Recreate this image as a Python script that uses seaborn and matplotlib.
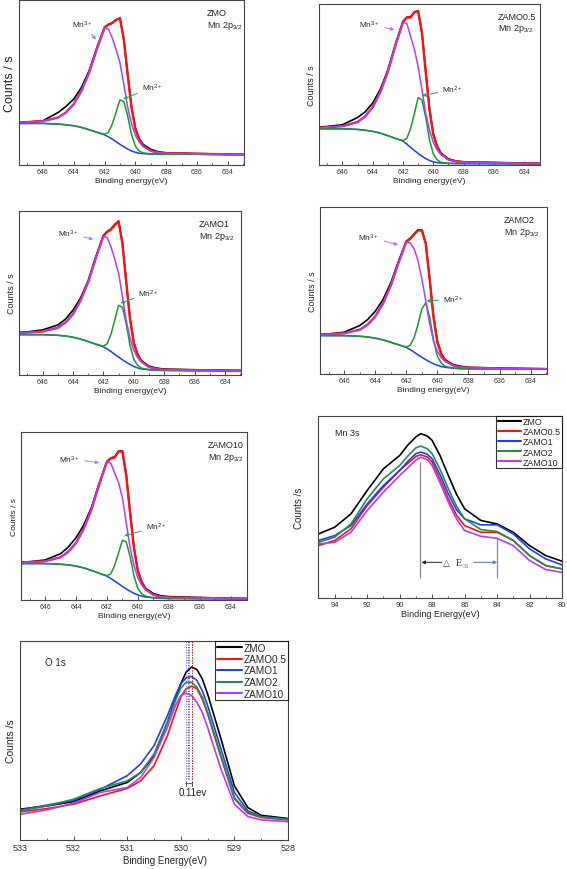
import matplotlib
matplotlib.use("Agg")
import matplotlib.pyplot as plt
from matplotlib.ticker import MultipleLocator, NullLocator
import seaborn as sns

# ---- Mn 2p3/2 fits (counts scaled to % of panel height) ----
mn2p_energy = [647.5, 647, 646, 645, 644.5, 644, 643.5, 643, 642.5, 642, 641.75, 641.5, 641.25,
               641, 640.75, 640.5, 640.25, 640, 639.75, 639.5, 639, 638.5, 638, 636, 634, 633]

zmo_raw = [25.8, 26.0, 26.8, 31.9, 35.5, 39.9, 47.0, 57.1, 71.0, 83.5, 85.0, 86.0, 88.0,
           89.0, 76.0, 55.0, 35.5, 22.5, 16.0, 12.5, 9.5, 8.0, 7.4, 6.9, 6.6, 6.4]
zmo_fit = [25.8, 26.0, 26.6, 28.8, 31.9, 36.9, 45.0, 56.0, 70.3, 83.2, 85.2, 86.1, 87.9,
           89.0, 76.4, 55.1, 35.0, 21.8, 15.4, 11.7, 8.6, 7.5, 7.1, 6.8, 6.5, 6.4]
zmo_mn3 = [25.8, 26.0, 26.6, 28.8, 31.9, 36.9, 45.0, 56.0, 70.2, 82.9, 82.5, 77.0, 70.0,
           62.0, 49.0, 35.0, 25.0, 18.0, 14.0, 11.3, 8.5, 7.5, 7.1, 6.8, 6.5, 6.4]
zmo_mn2 = [25.2, 25.2, 25.2, 24.8, 24.4, 23.8, 22.8, 21.4, 19.9, 18.6, 19.8, 24.8, 32.0,
           39.5, 38.5, 29.8, 18.5, 11.5, 8.5, 7.3, 6.8, 6.5, 6.5, 6.5, 6.3, 6.3]
zmo_bg = [25.2, 25.2, 25.2, 24.8, 24.4, 23.8, 22.8, 21.4, 19.8, 18.3, 17.1, 15.7, 14.1,
          12.5, 11.1, 9.7, 8.5, 7.7, 7.1, 6.9, 6.7, 6.5, 6.5, 6.5, 6.3, 6.3]

zamo05_raw = [23.7, 23.9, 25.0, 29.5, 33.0, 38.5, 47.0, 59.0, 75.0, 89.2, 91.8, 92.0, 95.0,
              95.8, 82.5, 58.5, 35.0, 19.5, 12.0, 7.5, 3.8, 2.5, 2.0, 1.5, 1.1, 1.0]
zamo05_fit = [23.2, 23.5, 24.1, 26.7, 30.2, 36.0, 45.3, 58.0, 74.3, 88.9, 91.5, 91.6, 94.9,
              95.6, 82.0, 57.7, 34.3, 18.9, 11.3, 7.0, 3.4, 2.2, 1.7, 1.4, 1.0, 0.9]
zamo05_mn3 = [23.2, 23.5, 24.1, 26.7, 30.2, 36.0, 45.3, 58.0, 74.3, 88.5, 88.0, 80.0, 72.0,
              61.0, 47.0, 32.0, 21.5, 14.0, 9.5, 6.5, 3.3, 2.2, 1.7, 1.4, 1.0, 0.9]
zamo05_mn2 = [22.5, 22.5, 22.5, 22.1, 21.6, 20.9, 19.8, 18.2, 16.5, 15.2, 16.5, 22.6, 31.9,
              41.8, 40.5, 29.7, 15.6, 6.9, 3.3, 1.7, 1.1, 0.9, 0.9, 0.8, 0.8, 0.8]
zamo05_bg = [22.5, 22.5, 22.5, 22.1, 21.6, 20.9, 19.8, 18.2, 16.5, 14.8, 13.0, 11.0, 9.0,
             7.2, 5.5, 4.0, 2.8, 2.0, 1.5, 1.2, 1.0, 0.9, 0.9, 0.8, 0.8, 0.8]

zamo1_raw = [26.0, 26.3, 27.5, 30.5, 34.0, 39.5, 47.0, 57.5, 72.0, 85.1, 87.5, 89.0, 91.8,
             93.9, 80.7, 57.3, 34.8, 20.0, 12.8, 8.8, 5.4, 4.2, 3.6, 3.2, 2.9, 2.8]
zamo1_fit = [25.7, 25.9, 26.5, 28.8, 32.0, 37.1, 45.4, 56.7, 71.3, 84.8, 87.2, 88.7, 91.5,
             93.6, 80.2, 56.7, 34.2, 19.4, 12.3, 8.3, 4.9, 3.7, 3.2, 2.9, 2.7, 2.6]
zamo1_mn3 = [25.7, 25.9, 26.5, 28.8, 32.0, 37.1, 45.4, 56.7, 71.3, 84.4, 84.0, 78.1, 70.6,
             62.0, 48.1, 33.2, 22.5, 15.0, 10.7, 7.8, 4.8, 3.7, 3.2, 2.9, 2.7, 2.6]
zamo1_mn2 = [24.6, 24.6, 24.6, 24.2, 23.8, 23.0, 21.9, 20.4, 18.8, 17.6, 19.1, 24.9, 33.5,
             42.5, 41.4, 31.3, 18.1, 9.6, 5.9, 4.2, 3.3, 2.9, 2.8, 2.7, 2.6, 2.6]
zamo1_bg = [24.6, 24.6, 24.6, 24.2, 23.8, 23.0, 21.9, 20.4, 18.8, 17.2, 15.9, 14.3, 12.6,
            10.9, 9.3, 7.8, 6.4, 5.2, 4.3, 3.7, 3.2, 2.9, 2.8, 2.7, 2.6, 2.6]

zamo2_raw = [23.8, 24.0, 25.0, 29.0, 32.5, 37.5, 44.5, 54.5, 67.5, 79.5, 81.3, 83.8, 86.3,
             86.3, 78.5, 57.5, 34.6, 19.6, 12.3, 8.6, 5.7, 4.6, 4.0, 3.5, 3.2, 3.1]
zamo2_fit = [23.6, 23.8, 24.4, 26.5, 29.5, 34.4, 42.2, 52.9, 66.6, 79.2, 81.0, 83.5, 86.0,
             86.0, 78.0, 57.0, 34.0, 19.0, 11.8, 8.1, 5.2, 4.1, 3.7, 3.4, 3.1, 3.0]
zamo2_mn3 = [23.6, 23.8, 24.4, 26.5, 29.5, 34.4, 42.2, 52.9, 66.6, 78.9, 78.5, 75.0, 68.0,
             57.0, 44.0, 30.0, 20.0, 13.5, 9.8, 7.5, 5.1, 4.1, 3.7, 3.4, 3.1, 3.0]
zamo2_mn2 = [23.0, 23.0, 23.0, 22.6, 22.2, 21.5, 20.4, 19.0, 17.5, 16.2, 17.1, 21.6, 29.5,
             39.0, 42.6, 34.3, 20.1, 10.7, 6.5, 4.6, 3.6, 3.2, 3.1, 3.0, 3.0, 3.0]
zamo2_bg = [23.0, 23.0, 23.0, 22.6, 22.2, 21.5, 20.4, 19.0, 17.5, 15.9, 14.6, 13.1, 11.5,
            10.0, 8.6, 7.3, 6.1, 5.2, 4.5, 4.0, 3.5, 3.2, 3.1, 3.0, 3.0, 3.0]

zamo10_raw = [22.5, 22.8, 23.8, 27.5, 31.5, 37.0, 44.5, 55.0, 69.5, 82.5, 84.6, 85.2, 88.6,
              88.8, 74.5, 52.2, 31.3, 17.6, 10.9, 7.0, 3.8, 2.5, 2.0, 1.5, 1.0, 0.9]
zamo10_fit = [22.3, 22.5, 23.1, 25.4, 28.7, 33.9, 42.3, 53.8, 68.7, 82.2, 84.3, 84.9, 88.3,
              88.5, 74.0, 51.6, 30.7, 17.0, 10.3, 6.4, 3.1, 1.9, 1.5, 1.2, 0.9, 0.8]
zamo10_mn3 = [22.3, 22.5, 23.1, 25.4, 28.7, 33.9, 42.3, 53.8, 68.7, 81.9, 81.5, 75.6, 70.0,
              61.0, 46.0, 31.1, 20.5, 13.1, 8.9, 6.0, 3.0, 1.9, 1.5, 1.2, 0.9, 0.8]
zamo10_mn2 = [21.7, 21.7, 21.7, 21.3, 20.9, 20.2, 19.1, 17.6, 15.9, 14.5, 15.6, 20.6, 28.0,
              35.6, 34.6, 25.7, 14.2, 6.9, 3.7, 2.2, 1.4, 1.0, 0.9, 0.8, 0.8, 0.8]
zamo10_bg = [21.7, 21.7, 21.7, 21.3, 20.9, 20.2, 19.1, 17.6, 15.9, 14.2, 12.8, 11.3, 9.7,
             8.1, 6.6, 5.2, 4.0, 3.0, 2.3, 1.8, 1.3, 1.0, 0.9, 0.8, 0.8, 0.8]

# ---- Mn 3s ----
mn3s_energy = [95, 94, 93, 92, 91, 90, 89.5, 89, 88.7, 88.3, 88, 87.5, 87, 86.5, 86, 85, 84, 83, 82, 81, 80]
mn3s_zmo = [35.2, 38.9, 46.2, 59.1, 71.0, 78.3, 84.0, 88.5, 90.3, 89.0, 86.6, 78.0, 67.3, 57.0,
            49.0, 42.6, 40.7, 36.1, 28.8, 23.3, 20.2]
mn3s_zamo05 = [28.8, 31.6, 38.0, 50.8, 60.9, 70.1, 74.0, 77.8, 78.7, 77.5, 74.7, 65.0, 54.5, 45.5,
               39.8, 36.1, 36.1, 31.6, 23.3, 17.8, 16.0]
mn3s_zamo1 = [31.6, 34.3, 39.8, 51.7, 61.8, 70.1, 75.0, 79.3, 80.2, 79.0, 76.5, 67.5, 57.2, 48.5,
              43.5, 40.2, 40.2, 35.2, 27.0, 21.5, 18.2]
mn3s_zamo2 = [30.6, 33.4, 40.7, 54.5, 65.5, 72.8, 78.0, 82.5, 83.5, 82.0, 79.3, 70.5, 60.0, 50.5,
              43.5, 37.6, 36.5, 31.6, 23.3, 17.8, 16.0]
mn3s_zamo10 = [29.7, 30.6, 36.1, 48.1, 58.2, 67.3, 71.5, 75.8, 77.4, 76.0, 72.8, 63.0, 52.7, 43.5,
               37.1, 33.9, 32.8, 28.8, 20.6, 15.6, 14.1]
mn3s_split = [88.75, 84.0]   # peak positions used for delta E 3s

# ---- O 1s ----
o1s_energy = [533, 532.5, 532, 531.5, 531, 530.75, 530.5, 530.25, 530.1, 530, 529.9, 529.8,
              529.7, 529.6, 529.5, 529.25, 529, 528.75, 528.5, 528]
o1s_zmo = [15.5, 17.1, 19.3, 24.7, 28.9, 33.9, 42.4, 59.2, 70.9, 78.5, 84.4, 86.9, 85.7, 81.0,
           73.4, 50.8, 27.2, 16.3, 12.4, 10.8]
o1s_zamo05 = [14.1, 15.8, 18.0, 22.2, 25.9, 29.7, 37.3, 52.4, 64.2, 71.8, 76.0, 77.3, 76.0, 70.9,
              63.4, 41.5, 20.8, 13.4, 11.3, 10.1]
o1s_zamo1 = [15.1, 17.5, 20.0, 25.5, 32.3, 38.2, 47.4, 62.5, 72.6, 78.5, 81.5, 82.2, 80.2, 75.1,
             67.6, 45.7, 23.9, 14.6, 11.8, 10.4]
o1s_zamo2 = [14.6, 17.1, 20.5, 25.9, 29.7, 33.9, 43.2, 59.2, 70.1, 76.3, 79.3, 79.3, 76.8, 71.8,
             64.2, 42.4, 21.3, 13.8, 11.6, 10.4]
o1s_zamo10 = [12.9, 15.1, 18.5, 23.9, 26.4, 31.4, 41.5, 56.6, 67.6, 72.6, 73.8, 72.6, 69.2, 64.2,
              56.6, 35.6, 18.0, 11.8, 10.1, 9.2]
o1s_peaks = [529.80, 529.79, 529.86, 529.84, 529.91]

sample_names = ["ZMO", "ZAMO0.5", "ZAMO1", "ZAMO2", "ZAMO10"]

sns.set_theme(style="white")
plt.rcParams["font.family"] = ["Liberation Sans", "DejaVu Sans"]
plt.rcParams["mathtext.fontset"] = "custom"
plt.rcParams["mathtext.rm"] = "Liberation Sans"
plt.rcParams["mathtext.it"] = "Liberation Sans:italic"

BLACK = "#000000"
RED = "#ff1010"
BLUE = "#1f3ff0"
GREEN = "#1a9a2a"
TEAL = "#2a8a50"
PURPLE = "#b03cff"
series_colors = [BLACK, RED, BLUE, TEAL, PURPLE]

fig = plt.figure(figsize=(5.67, 8.7), dpi=100)


def style_axis(ax, major, minor, tick_size):
    ax.xaxis.set_major_locator(MultipleLocator(major))
    ax.xaxis.set_minor_locator(MultipleLocator(minor))
    ax.yaxis.set_major_locator(NullLocator())
    ax.tick_params(axis="x", which="major", direction="in", length=3, width=0.6,
                   labelsize=tick_size, pad=2, bottom=True, colors="#333333")
    ax.tick_params(axis="x", which="minor", direction="in", length=1.6, width=0.5, bottom=True)
    for sp in ax.spines.values():
        sp.set_color("#444444")
        sp.set_linewidth(0.8)


def line(ax, x, y, color, lw, label=None):
    sns.lineplot(x=x, y=y, color=color, lw=lw, ax=ax, sort=False, errorbar=None, label=label)


# Mn 2p panels
panels_2p = [
    ([19 / 567, 1 - 166 / 870, 225 / 567, 165 / 870], "ZMO",
     zmo_raw, zmo_fit, zmo_mn3, zmo_mn2, zmo_bg,
     (643.4, 85.3), (642.55, 76), (638.9, 47), (640.8, 40), 0.836, 9),
    ([319 / 567, 1 - 166 / 870, 221 / 567, 161 / 870], "ZAMO0.5",
     zamo05_raw, zamo05_fit, zamo05_mn3, zamo05_mn2, zamo05_bg,
     (644.2, 87.5), (642.57, 84), (638.7, 47), (640.73, 43), 0.81, 6.5),
    ([19 / 567, 1 - 376 / 870, 222 / 567, 164 / 870], "ZAMO1",
     zamo1_raw, zamo1_fit, zamo1_mn3, zamo1_mn2, zamo1_bg,
     (644.3, 86.6), (642.67, 82.7), (639.0, 50), (640.88, 43.8), 0.81, 6.5),
    ([320 / 567, 1 - 375 / 870, 227 / 567, 167 / 870], "ZAMO2",
     zamo2_raw, zamo2_fit, zamo2_mn3, zamo2_mn2, zamo2_bg,
     (644.4, 82), (642.53, 77.4), (638.95, 45), (640.69, 43.6), 0.81, 6.5),
    ([21 / 567, 1 - 601 / 870, 226 / 567, 168 / 870], "ZAMO10",
     zamo10_raw, zamo10_fit, zamo10_mn3, zamo10_mn2, zamo10_bg,
     (644.4, 84), (642.5, 81.7), (638.8, 43.6), (640.88, 38.2), 0.827, 6),
]

for rect, name, raw, fit, mn3, mn2, bg, t3, p3, t2, p2, tx, ysize in panels_2p:
    ax = fig.add_axes(rect)
    line(ax, mn2p_energy, raw, BLACK, 1.2)
    line(ax, mn2p_energy, fit, RED, 1.7)
    line(ax, mn2p_energy, bg, BLUE, 1.1)
    line(ax, mn2p_energy, mn2, GREEN, 1.1)
    line(ax, mn2p_energy, mn3, PURPLE, 1.1)
    ax.set_xlim(647.55, 632.95)
    ax.set_ylim(0, 100)
    style_axis(ax, 2, 1, 5)
    ax.set_xlabel("Binding energy(eV)", fontsize=6, labelpad=1.5)
    ax.set_ylabel("Counts / s", fontsize=ysize, labelpad=2)
    ax.text(tx, 0.925, name, transform=ax.transAxes, fontsize=6.5, va="center")
    ax.text(tx, 0.85, "Mn 2p$_{\\mathregular{3/2}}$", transform=ax.transAxes, fontsize=6.5, va="center")
    ax.annotate("Mn$^{\\mathregular{3+}}$", xy=p3, xytext=t3, fontsize=6, ha="center", va="center",
                arrowprops=dict(arrowstyle="-|>", color="#c070ff", lw=0.7, mutation_scale=5,
                                shrinkA=1, shrinkB=0))
    ax.annotate("Mn$^{\\mathregular{2+}}$", xy=p2, xytext=t2, fontsize=6, ha="center", va="center",
                arrowprops=dict(arrowstyle="-|>", color="#2aa060", lw=0.7, mutation_scale=5,
                                shrinkA=1, shrinkB=0))

# Mn 3s panel
ax = fig.add_axes([318 / 567, 1 - 599 / 870, 244 / 567, 182 / 870])
for name, vals, col in zip(sample_names,
                           [mn3s_zmo, mn3s_zamo05, mn3s_zamo1, mn3s_zamo2, mn3s_zamo10],
                           series_colors):
    line(ax, mn3s_energy, vals, col, 1.2, label=name)
ax.set_xlim(95.03, 80)
ax.set_ylim(0, 100)
style_axis(ax, 2, 1, 5.5)
ax.set_xlabel("Binding Energy(eV)", fontsize=6.5, labelpad=1)
ax.set_ylabel("Counts /s", fontsize=7, labelpad=10)
ax.text(0.07, 0.91, "Mn 3s", transform=ax.transAxes, fontsize=6.5, va="center")
ax.vlines(mn3s_split[0], 10.8, 74.7, color="#888888", lw=0.9)
ax.vlines(mn3s_split[1], 10.8, 33.4, color="#888888", lw=0.9)
ax.annotate("", xy=(mn3s_split[0] - 0.1, 19.6), xytext=(87.4, 19.6),
            arrowprops=dict(arrowstyle="-|>", color="#222222", lw=0.7, mutation_scale=5,
                            shrinkA=0, shrinkB=0))
ax.annotate("", xy=(mn3s_split[1], 19.6), xytext=(85.45, 19.6),
            arrowprops=dict(arrowstyle="-|>", color="#5577cc", lw=0.7, mutation_scale=5,
                            shrinkA=0, shrinkB=0))
ax.text(86.75, 19.6, "\u25b3  E", fontsize=6.5, ha="center", va="center", color="#444444",
        family=["DejaVu Serif", "DejaVu Sans"])
ax.text(85.9, 17.6, "3S", fontsize=3.5, ha="center", va="center", color="#5577cc",
        family=["DejaVu Serif", "DejaVu Sans"])
leg = ax.legend(loc="upper right", fontsize=6.4, handlelength=2.6, handletextpad=0.2,
                labelspacing=0.12, borderpad=0.15, borderaxespad=0, frameon=True,
                fancybox=False, edgecolor="black")
leg.get_frame().set_linewidth(0.8)
for h in leg.get_lines():
    h.set_linewidth(1.5)

# O 1s panel
ax = fig.add_axes([20 / 567, 1 - 841 / 870, 268 / 567, 199 / 870])
for name, vals, col in zip(sample_names,
                           [o1s_zmo, o1s_zamo05, o1s_zamo1, o1s_zamo2, o1s_zamo10],
                           series_colors):
    line(ax, o1s_energy, vals, col, 1.2, label=name)
for pk, col in zip(o1s_peaks, series_colors):
    ax.vlines(pk, 30.6, 100, color=col, lw=0.7, linestyles=":")
ax.annotate("", xy=(min(o1s_peaks), 28.3), xytext=(max(o1s_peaks), 28.3),
            arrowprops=dict(arrowstyle="|-|", color="#333333", lw=0.6, mutation_scale=2,
                            shrinkA=0, shrinkB=0))
ax.text(529.78, 24.2, "0.11ev", fontsize=7, ha="center", va="center", color="#222222")
ax.set_xlim(533, 528)
ax.set_ylim(0, 100)
style_axis(ax, 1, 0.5, 6.5)
ax.set_xlabel("Binding Energy(eV)", fontsize=7, labelpad=2)
ax.xaxis.label.set_x(0.54)
ax.set_ylabel("Counts /s", fontsize=7.5, labelpad=3)
ax.text(0.093, 0.894, "O 1s", transform=ax.transAxes, fontsize=7, va="center")
leg = ax.legend(loc="upper right", fontsize=7.2, handlelength=2.5, handletextpad=0.2,
                labelspacing=0.15, borderpad=0.15, borderaxespad=0, frameon=True,
                fancybox=False, edgecolor="black")
leg.get_frame().set_linewidth(0.8)
for h in leg.get_lines():
    h.set_linewidth(1.5)

fig.savefig("out.png", dpi=100)
